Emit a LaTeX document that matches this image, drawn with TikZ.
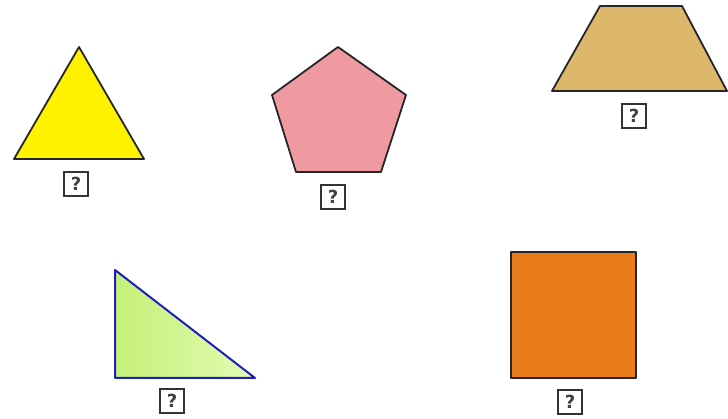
\documentclass[tikz,border=0pt]{standalone}
\usepackage{fontspec}
\setsansfont{DejaVu Sans}
\usepackage{tikz}
\usetikzlibrary{positioning}
\definecolor{triyellow}{RGB}{255,242,0}
\definecolor{pentpink}{RGB}{238,154,160}
\definecolor{traptan}{RGB}{221,184,108}
\definecolor{rtgreenA}{RGB}{196,240,120}
\definecolor{rtgreenB}{RGB}{226,252,178}
\definecolor{sqorange}{RGB}{232,124,26}
\definecolor{rtblue}{RGB}{30,30,190}
\tikzset{
  shape edge/.style={draw=black!85, line width=1.8pt, line join=round},
  qbox/.style={draw=black!80, line width=1.6pt, minimum width=24pt, minimum height=24pt,
    inner sep=0pt, font=\sffamily\bfseries\fontsize{18}{18}\selectfont, text=black!75}
}
\begin{document}
\begin{tikzpicture}[x=1pt, y=-1pt]
    \useasboundingbox (0,0) rectangle (728,419);
    % top row
    \draw[shape edge, fill=triyellow] (14,159) -- (79,47) -- (144,159) -- cycle;
    \node[qbox] (qtri) at (76,184) {?};
    \draw[shape edge, fill=pentpink] (338,47) -- (406,95) -- (381,172) -- (296,172) -- (272,95) -- cycle;
    \node[qbox] (qpent) at (333,197) {?};
    \draw[shape edge, fill=traptan] (600,6) -- (682,6) -- (727,91) -- (552,91) -- cycle;
    \node[qbox] (qtrap) at (634,116) {?};
    % bottom row
    \draw[draw=rtblue, line width=2pt, line join=round, shading=axis, shading angle=45,
          left color=rtgreenA, right color=rtgreenB]
        (115,270) -- (255,378) -- (115,378) -- cycle;
    \node[qbox] (qright) at (172,401) {?};
    \draw[shape edge, fill=sqorange] (511,252) rectangle (636,378);
    \node[qbox] (qsq) at (570,402) {?};
\end{tikzpicture}
\end{document}
